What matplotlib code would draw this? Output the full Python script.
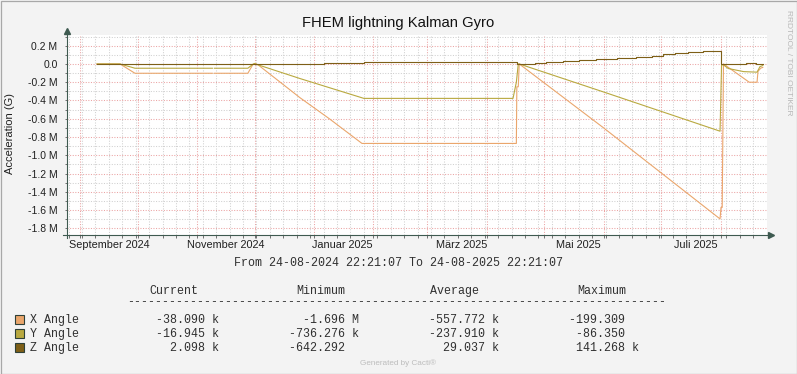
import numpy as np
import pandas as pd
import matplotlib
matplotlib.use("Agg")
import matplotlib.pyplot as plt
import matplotlib.dates as mdates
from matplotlib.ticker import MultipleLocator, FixedLocator
from matplotlib.patches import Rectangle

# ---------------- data ----------------
title = "FHEM lightning Kalman Gyro"
y_label = "Acceleration (G)"
t_start = "2024-08-24 22:21:07"
t_end = "2025-08-24 22:21:07"
range_text = "From 24-08-2024 22:21:07 To 24-08-2025 22:21:07"

series_names = ["X Angle", "Y Angle", "Z Angle"]
series_colors = ["#EAA66C", "#B9A940", "#7E5F17"]

nan = np.nan
x_dates = ["2024-09-09 20:00", "2024-09-21 20:00", "2024-09-29 15:00", "2024-11-09 00:00",
           "2024-11-09 12:00", "2024-11-10 00:00", "2024-11-27 12:00", "2024-11-30 00:00",
           "2024-12-01 00:00", "2024-12-02 20:00", "2024-12-24 17:00", "2025-01-09 00:00",
           "2025-01-26 00:00", "2025-04-16 12:00", "2025-04-16 18:00", "2025-04-17 12:00",
           "2025-04-18 00:00", "2025-06-01 00:00", "2025-07-31 17:00", "2025-08-01 05:00",
           "2025-08-01 20:00", "2025-08-02 12:00", "2025-08-15 22:00", "2025-08-20 00:00",
           "2025-08-20 12:00", "2025-08-22 00:00", "2025-08-23 00:00"]
x_values = [0.0, 0.0, -0.102, -0.102,
            nan, -0.102, -0.102, -0.01,
            0.005, -0.01, -0.37, -0.60,
            -0.87, -0.87, -0.25, -0.25,
            0.0, -0.70, -1.696, -1.57,
            -1.57, 0.0, -0.20, -0.20,
            -0.08, -0.045, -0.038]

y_dates = ["2024-09-09 20:00", "2024-09-21 20:00", "2024-09-29 15:00", "2024-11-09 00:00",
           "2024-11-09 12:00", "2024-11-10 00:00", "2024-11-27 12:00", "2024-11-30 00:00",
           "2024-12-01 00:00", "2024-12-02 20:00", "2024-12-24 17:00", "2025-01-27 00:00",
           "2025-04-14 18:00", "2025-04-16 12:00", "2025-04-17 12:00", "2025-04-18 00:00",
           "2025-06-01 00:00", "2025-07-31 17:00", "2025-08-01 12:00", "2025-08-02 12:00",
           "2025-08-05 00:00", "2025-08-13 00:00", "2025-08-20 00:00", "2025-08-21 12:00",
           "2025-08-23 00:00"]
y_values = [0.0, 0.0, -0.047, -0.047,
            nan, -0.047, -0.047, -0.005,
            0.005, -0.01, -0.16, -0.377,
            -0.377, -0.20, 0.0, 0.0,
            -0.307, -0.736, -0.01, -0.01,
            -0.05, -0.084, -0.09, -0.03,
            -0.017]

z_dates = ["2024-09-09 20:00", "2024-11-09 00:00", "2024-11-09 12:00", "2024-11-10 00:00",
           "2025-01-06 00:00", "2025-01-27 00:00", "2025-04-16 18:00", "2025-04-26 00:00",
           "2025-05-02 00:00", "2025-05-11 00:00", "2025-05-19 00:00", "2025-05-28 00:00",
           "2025-06-08 00:00", "2025-06-18 00:00", "2025-06-26 00:00", "2025-07-02 00:00",
           "2025-07-08 00:00", "2025-07-15 00:00", "2025-07-23 00:00", "2025-08-01 06:00",
           "2025-08-14 00:00", "2025-08-19 12:00", "2025-08-23 00:00"]
z_values = [0.0, 0.0, nan, 0.0,
            0.011, 0.022, 0.0, 0.011,
            0.022, 0.033, 0.044, 0.055,
            0.066, 0.080, 0.091, 0.106,
            0.117, 0.128, 0.140, 0.0,
            0.014, 0.002, 0.002]

ytick_values = [0.2, 0.0, -0.2, -0.4, -0.6, -0.8, -1.0, -1.2, -1.4, -1.6, -1.8]
ytick_labels = ["0.2 M", "0.0", "-0.2 M", "-0.4 M", "-0.6 M", "-0.8 M", "-1.0 M",
                "-1.2 M", "-1.4 M", "-1.6 M", "-1.8 M"]
month_label_dates = ["2024-09-16", "2024-11-16", "2025-01-16", "2025-03-19", "2025-05-19", "2025-07-19"]
month_labels = ["September 2024", "November 2024", "Januar 2025", "März 2025", "Mai 2025", "Juli 2025"]

stat_headers = ["Current", "Minimum", "Average", "Maximum"]
stats = [["-38.090 k", "-1.696 M", "-557.772 k", "-199.309"],
         ["-16.945 k", "-736.276 k", "-237.910 k", "-86.350"],
         ["2.098 k", "-642.292", "29.037 k", "141.268 k"]]

# ---------------- layout ----------------
W, H = 797, 374
SANS = "Liberation Sans"
MONO = "Liberation Mono"
fig = plt.figure(figsize=(W / 100, H / 100), dpi=100, facecolor="#F3F3F3")


def fx(x):
    return x / W


def fy(y):
    return 1 - y / H


fig.patches.append(Rectangle((fx(0.5), fy(373.5)), fx(796), 373 / H, transform=fig.transFigure,
                             fill=False, edgecolor="#A8A8A8", lw=0.9))

ax = fig.add_axes([fx(66.5), fy(235), 700 / W, 200.3 / H])
ax.set_facecolor("#FFFFFF")
for s in ax.spines.values():
    s.set_visible(False)

ax.set_xlim(pd.Timestamp(t_start), pd.Timestamp(t_end))
ax.set_ylim(-1.872, 0.32)

ax.xaxis.set_major_locator(mdates.MonthLocator())
ax.xaxis.set_minor_locator(mdates.WeekdayLocator(byweekday=mdates.MO))
ax.yaxis.set_major_locator(FixedLocator(ytick_values))
ax.yaxis.set_minor_locator(MultipleLocator(0.1))
ax.set_yticks(ytick_values, ytick_labels)
ax.set_axisbelow(True)
ax.grid(which="minor", color="#D0D0D0", linestyle=(0, (1, 1.5)), lw=0.75)
ax.grid(which="major", color="#EBA4A4", linestyle=(0, (1, 1.5)), lw=0.75)
ax.tick_params(axis="x", which="both", labelbottom=False, length=2.0, width=0.7,
               color="#707070", direction="out")
ax.tick_params(axis="y", which="both", length=1.8, width=0.7, color="#707070",
               direction="out", pad=4.6, labelsize=7.5, labelcolor="#202020")
for lab in ax.get_yticklabels():
    lab.set_family(SANS)

# data lines
for d, v, c, ds in [(x_dates, x_values, series_colors[0], "default"),
                    (y_dates, y_values, series_colors[1], "default"),
                    (z_dates, z_values, series_colors[2], "steps-post")]:
    ax.plot(pd.to_datetime(d), v, color=c, lw=0.8, drawstyle=ds, zorder=3)

# axis lines with arrows
axc = "#3E5A50"
ax.plot([0, 0], [-3 / 200.3, 1.028], transform=ax.transAxes, color=axc, lw=0.8, clip_on=False, zorder=5)
ax.plot([-4 / 700, 1.009], [0, 0], transform=ax.transAxes, color=axc, lw=0.8, clip_on=False, zorder=5)
ax.plot([0], [1.02], marker="^", ms=4.2, color=axc, transform=ax.transAxes, clip_on=False, zorder=6)
ax.plot([1.007], [0], marker=">", ms=4.2, color=axc, transform=ax.transAxes, clip_on=False, zorder=6)

# month labels
for d, lab in zip(month_label_dates, month_labels):
    ax.text(pd.Timestamp(d), -10.3 / 200.3, lab, transform=ax.get_xaxis_transform(),
            ha="center", va="center", fontsize=7.8, family=SANS, color="#202020")

# texts
fig.text(fx(398.3), fy(22.6), title, ha="center", va="center", fontsize=10.6, family=SANS, color="#111111")
fig.text(fx(10.5), fy(133.5), y_label, ha="center", va="center", rotation=90, fontsize=8.0,
         family=SANS, color="#202020")
fig.text(fx(788.5), fy(63), "RRDTOOL / TOBI OETIKER", ha="center", va="center", rotation=270,
         fontsize=6.0, family=SANS, color="#B8B8B8")
fig.text(fx(398), fy(263.5), range_text, ha="center", va="center", fontsize=8.4, family=MONO, color="#303030")
fig.text(fx(398.3), fy(363.5), "Generated by Cacti®", ha="center", va="center", fontsize=5.9,
         family=SANS, color="#BDBDBD")

# legend
header_x = [173.7, 320.7, 454.7, 601.4]
for hx, h in zip(header_x, stat_headers):
    fig.text(fx(hx), fy(290.7), h, ha="center", va="center", fontsize=8.4, family=MONO, color="#303030")
fig.text(fx(397), fy(302.5), "-" * 77, ha="center", va="center", fontsize=8.4, family=MONO, color="#303030")

for k, (name, row) in enumerate(zip(series_names, stats)):
    line = [" "] * 90
    for i, ch in enumerate(name):
        line[i] = ch
    for j, cell in enumerate(row):
        parts = cell.split(" ")
        num = parts[0]
        unit = parts[1] if len(parts) > 1 else ""
        end = 25 + 20 * j
        for i, ch in enumerate(num):
            line[end - len(num) + i] = ch
        if unit:
            line[26 + 20 * j] = unit
    yc = 319.7 + 14 * k
    fig.text(fx(29.5), fy(yc), "".join(line).rstrip(), ha="left", va="center", fontsize=8.4,
             family=MONO, color="#303030")
    fig.patches.append(Rectangle((fx(15), fy(yc + 4.5)), 8.5 / W, 9 / H, transform=fig.transFigure,
                                 facecolor=series_colors[k], edgecolor="#2E4038", lw=0.8))

fig.savefig("out.png", dpi=100, facecolor=fig.get_facecolor())
